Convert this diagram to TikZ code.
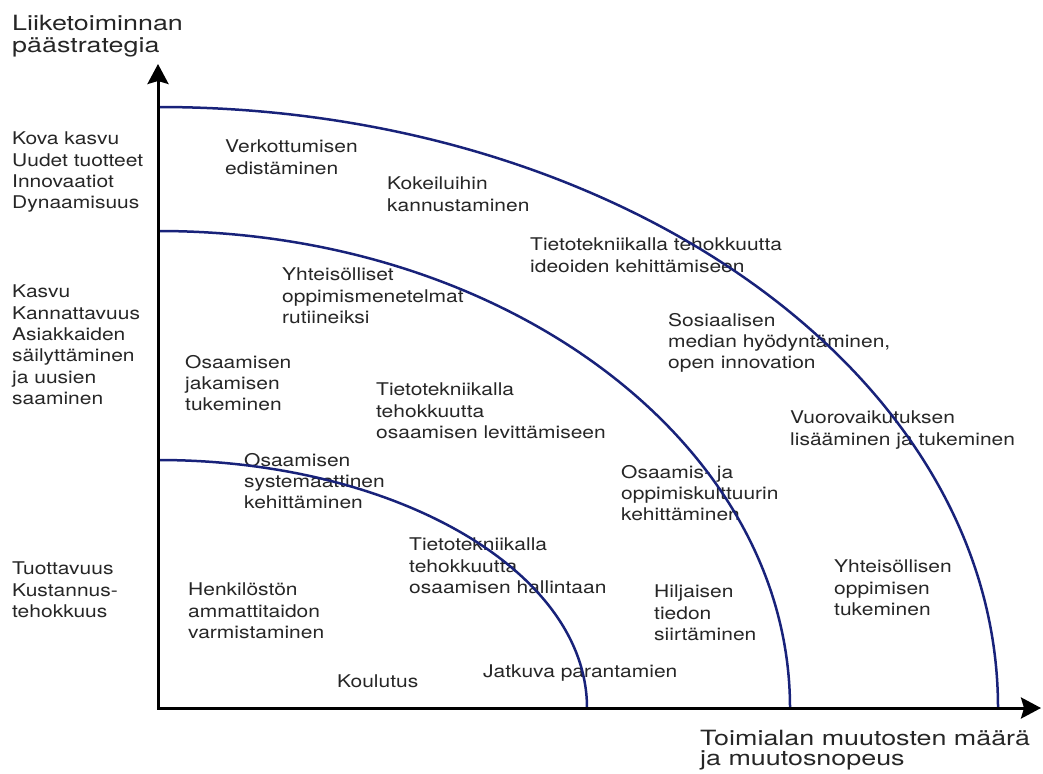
\documentclass[tikz,border=0pt]{standalone}
\usepackage{fontspec}
\setmainfont{TeX Gyre Heros}[FakeStretch=1.2]
\newfontfamily\axisfont{TeX Gyre Heros}[FakeStretch=1.28]
\usetikzlibrary{arrows.meta}
\definecolor{arcblue}{RGB}{24,34,122}
\begin{document}
\begin{tikzpicture}[x=1pt,y=-1pt,
  lbl/.style={anchor=north west,inner sep=0pt,align=left,text=black!85,
    font=\fontsize{17.5}{21.3}\selectfont},
  axlbl/.style={lbl,font=\axisfont\fontsize{21}{21.5}\selectfont},
  axis/.style={line width=3pt,line join=miter,
    {Stealth[length=20pt,width=21pt,inset=3pt]}-{Stealth[length=20pt,width=21pt,inset=3pt]}},
  arcline/.style={line width=2.5pt,draw=arcblue}]
  \useasboundingbox (0,0) rectangle (1043,773);
  % axis titles
  \node[axlbl] (ylab) at (12,15) {Liiketoiminnan\\päästrategia};
  \node[axlbl,font=\axisfont\fontsize{21}{20}\selectfont] (xlab) at (700,730)
    {Toimialan muutosten määrä\\ja muutosnopeus};
  % strategy levels
  \node[lbl] (hi) at (12,132) {Kova kasvu\\Uudet tuotteet\\Innovaatiot\\Dynaamisuus};
  \node[lbl] (mid) at (12,285) {Kasvu\\Kannattavuus\\Asiakkaiden\\säilyttäminen\\ja uusien\\saaminen};
  \node[lbl] (lo) at (12,562) {Tuottavuus\\Kustannus-\\tehokkuus};
  % outer zone
  \node[lbl] (verk) at (225,140) {Verkottumisen\\edistäminen};
  \node[lbl] (kok) at (387,177) {Kokeiluihin\\kannustaminen};
  \node[lbl] (tt1) at (530,238) {Tietotekniikalla tehokkuutta\\ideoiden kehittämiseen};
  \node[lbl] (some) at (668,313) {Sosiaalisen\\median hyödyntäminen,\\open innovation};
  \node[lbl] (vuor) at (790,411) {Vuorovaikutuksen\\lisääminen ja tukeminen};
  \node[lbl] (yol) at (834,560) {Yhteisöllisen\\oppimisen\\tukeminen};
  % middle zone
  \node[lbl] (yht) at (282,268) {Yhteisölliset\\oppimismenetelmat\\rutiineiksi};
  \node[lbl] (jak) at (185,355) {Osaamisen\\jakamisen\\tukeminen};
  \node[lbl] (tt2) at (376,383) {Tietotekniikalla\\tehokkuutta\\osaamisen levittämiseen};
  \node[lbl] (okul) at (621,465) {Osaamis- ja\\oppimiskulttuurin\\kehittäminen};
  \node[lbl] (hilj) at (654,585) {Hiljaisen\\tiedon\\siirtäminen};
  % inner zone
  \node[lbl] (sys) at (244,453) {Osaamisen\\systemaattinen\\kehittäminen};
  \node[lbl] (tt3) at (409,538) {Tietotekniikalla\\tehokkuutta\\osaamisen hallintaan};
  \node[lbl] (henk) at (188,583) {Henkilöstön\\ammattitaidon\\varmistaminen};
  \node[lbl] (koul) at (337,675) {Koulutus};
  \node[lbl] (jatk) at (483,665) {Jatkuva parantamien};
  % zone borders
  \foreach \rx/\ry in {429/248, 632/477, 840/601}
    \draw[arcline] (158,708-\ry) arc[start angle=90,end angle=0,
      x radius=\rx pt,y radius=\ry pt];
  % axes
  \coordinate (O) at (158,708);
  \coordinate (ytip) at (158,64);
  \coordinate (xtip) at (1041,708);
  \draw[axis] (ytip) -- (O) -- (xtip);
\end{tikzpicture}
\end{document}
